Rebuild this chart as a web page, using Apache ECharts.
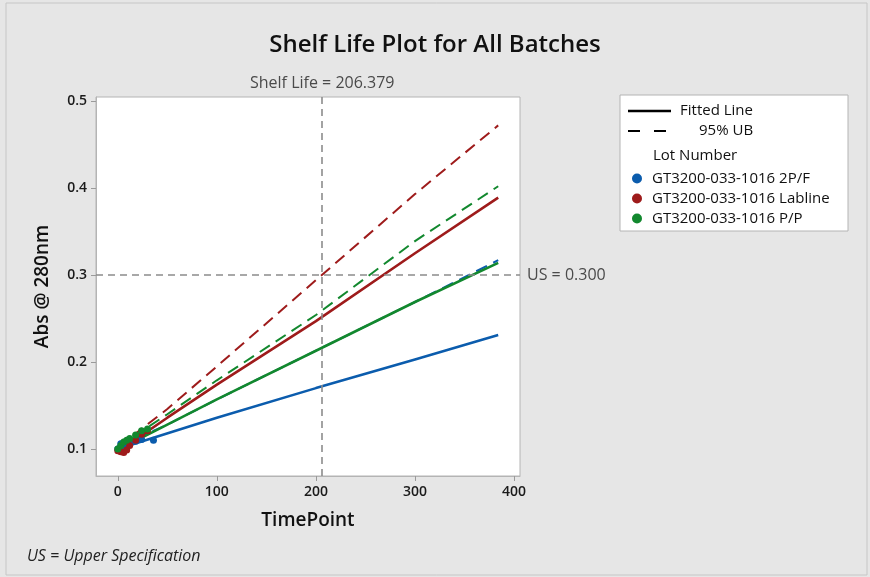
<!DOCTYPE html>
<html>
<head>
<meta charset="utf-8">
<script src="https://cdn.jsdelivr.net/npm/echarts@6/dist/echarts.min.js"></script>
<style>
  html, body { margin: 0; padding: 0; background: #e6e6e6; }
  #chart { width: 870px; height: 577px; }
</style>
</head>
<body>
<div id="chart"></div>
<script>
  // values
  const xTicks = [0, 100, 200, 300, 400];
  const yTicks = [0.1, 0.2, 0.3, 0.4, 0.5];
  const lots = ['GT3200-033-1016 2P/F', 'GT3200-033-1016 Labline', 'GT3200-033-1016 P/P'];
  const lotColors = ['#0b5cad', '#9e1b1b', '#12882e'];

  const shelfLife = 206.379;
  const upperSpec = 0.3;

  // measured points per lot [timepoint, abs]
  const pts2PF = [[0, 0.100], [3, 0.106], [6, 0.104], [9, 0.107], [12, 0.108], [18, 0.109], [24, 0.111], [36, 0.110]];
  const ptsLabline = [[0, 0.098], [3, 0.097], [6, 0.096], [9, 0.099], [12, 0.104], [18, 0.110], [24, 0.117], [30, 0.121]];
  const ptsPP = [[0, 0.100], [3, 0.104], [6, 0.108], [9, 0.110], [12, 0.112], [18, 0.116], [24, 0.121], [30, 0.123]];

  // fitted lines and 95% upper bounds
  const fit2PF = [[0, 0.100], [100, 0.136], [200, 0.170], [300, 0.203], [384, 0.231]];
  const ub2PF = [[0, 0.103], [50, 0.128], [100, 0.157], [200, 0.213], [300, 0.269], [384, 0.317]];
  const fitLabline = [[0, 0.097], [50, 0.136], [100, 0.174], [200, 0.247], [300, 0.325], [384, 0.389]];
  const ubLabline = [[0, 0.102], [50, 0.146], [100, 0.195], [206, 0.300], [300, 0.393], [384, 0.472]];
  const fitPP = [[0, 0.099], [50, 0.128], [100, 0.157], [200, 0.213], [300, 0.269], [384, 0.314]];
  const ubPP = [[0, 0.102], [50, 0.140], [100, 0.179], [200, 0.254], [300, 0.339], [384, 0.402]];

  const font = '"Open Sans", "Noto Sans", sans-serif';

  const lineSeries = (data, color, dashed) => ({
    type: 'line',
    data: data,
    showSymbol: false,
    silent: true,
    z: dashed ? 3 : 4,
    lineStyle: {
      color: color,
      width: dashed ? 2 : 2.6,
      type: dashed ? [12, 7] : 'solid',
    },
  });

  const scatterSeries = (name, data, color) => ({
    name: name,
    type: 'scatter',
    data: data,
    symbolSize: 7,
    itemStyle: { color: color, opacity: 1 },
    z: 5,
  });

  const legendText = (x, y, text) => ({
    type: 'text',
    x: x,
    y: y,
    style: { text: text, font: '15px ' + font, fill: '#111', verticalAlign: 'middle' },
  });

  const chart = echarts.init(document.getElementById('chart'));
  chart.setOption({
    backgroundColor: '#e6e6e6',
    animation: false,
    textStyle: { fontFamily: font },
    title: {
      text: 'Shelf Life Plot for All Batches',
      left: 'center',
      top: 28,
      textStyle: { fontFamily: font, fontSize: 24, fontWeight: 600, color: '#111' },
    },
    grid: {
      left: 96,
      top: 97,
      width: 424,
      height: 379,
      show: true,
      backgroundColor: '#fff',
      borderColor: '#b4b4b4',
      borderWidth: 1,
    },
    legend: {
      orient: 'vertical',
      left: 627,
      top: 166,
      itemGap: 5,
      itemWidth: 20,
      itemHeight: 10,
      icon: 'circle',
      data: lots,
      textStyle: { fontFamily: font, fontSize: 15, lineHeight: 14, color: '#111' },
    },
    xAxis: {
      type: 'value',
      min: -22,
      max: 406,
      name: 'TimePoint',
      nameLocation: 'middle',
      nameGap: 35,
      nameTextStyle: { fontSize: 19, fontWeight: 600, color: '#111' },
      splitLine: { show: false },
      axisLine: { onZero: false, lineStyle: { color: '#b4b4b4' } },
      axisTick: { length: 5, customValues: xTicks, lineStyle: { color: '#9a9a9a' } },
      axisLabel: { customValues: xTicks, fontSize: 14, fontWeight: 600, color: '#1a1a1a', margin: 9 },
    },
    yAxis: {
      type: 'value',
      min: 0.069,
      max: 0.5046,
      name: 'Abs @ 280nm',
      nameLocation: 'middle',
      nameGap: 44,
      nameTextStyle: { fontSize: 19, fontWeight: 600, color: '#111' },
      splitLine: { show: false },
      axisLine: { onZero: false, lineStyle: { color: '#b4b4b4' } },
      axisTick: { length: 5, customValues: yTicks, lineStyle: { color: '#9a9a9a' } },
      axisLabel: { customValues: yTicks, fontSize: 14, fontWeight: 600, color: '#1a1a1a', margin: 9 },
    },
    series: [
      {
        type: 'line',
        data: [],
        silent: true,
        markLine: {
          silent: true,
          symbol: 'none',
          lineStyle: { color: '#8c8c8c', width: 1.6, type: [7, 5] },
          data: [
            {
              xAxis: shelfLife,
              label: {
                position: 'end',
                distance: 6,
                formatter: 'Shelf Life = ' + shelfLife.toFixed(3),
                fontSize: 16,
                color: '#4a4a4a',
                fontFamily: font,
              },
            },
            {
              yAxis: upperSpec,
              label: {
                position: 'end',
                distance: 7,
                formatter: 'US = ' + upperSpec.toFixed(3),
                fontSize: 16,
                color: '#4a4a4a',
                fontFamily: font,
              },
            },
          ],
        },
      },
      lineSeries(ub2PF, lotColors[0], true),
      lineSeries(ubLabline, lotColors[1], true),
      lineSeries(ubPP, lotColors[2], true),
      lineSeries(fit2PF, lotColors[0], false),
      lineSeries(fitLabline, lotColors[1], false),
      lineSeries(fitPP, lotColors[2], false),
      scatterSeries(lots[0], pts2PF, lotColors[0]),
      scatterSeries(lots[1], ptsLabline, lotColors[1]),
      scatterSeries(lots[2], ptsPP, lotColors[2]),
    ],
    graphic: [
      // outer frame
      { type: 'rect', shape: { x: 6, y: 3, width: 861, height: 572 }, style: { fill: 'none', stroke: '#c6c6c6', lineWidth: 1 }, z: -1 },
      // legend box
      { type: 'rect', shape: { x: 620, y: 95, width: 228, height: 136 }, style: { fill: '#fff', stroke: '#b4b4b4', lineWidth: 1 }, z: -1 },
      { type: 'line', shape: { x1: 628, y1: 111, x2: 671, y2: 111 }, style: { stroke: '#000', lineWidth: 2.4 } },
      legendText(680, 111, 'Fitted Line'),
      { type: 'line', shape: { x1: 628, y1: 131, x2: 668, y2: 131 }, style: { stroke: '#000', lineWidth: 2.2, lineDash: [12, 14] } },
      legendText(699, 131, '95% UB'),
      legendText(653, 156, 'Lot Number'),
      // footnote
      { type: 'text', x: 27, y: 556, style: { text: 'US = Upper Specification', font: 'italic 16px ' + font, fill: '#222', verticalAlign: 'middle' } },
    ],
  });
</script>
</body>
</html>
